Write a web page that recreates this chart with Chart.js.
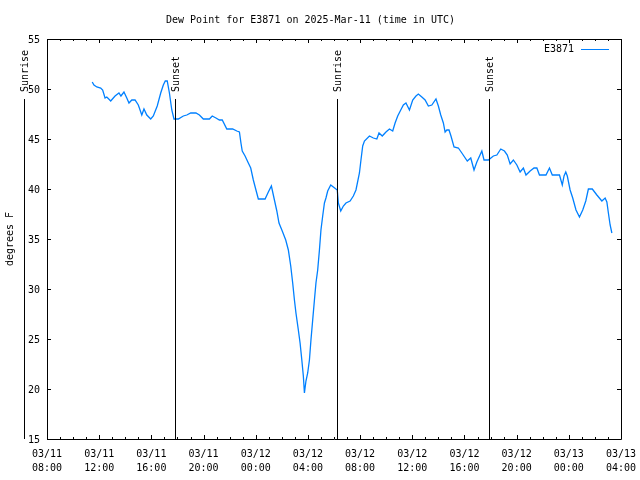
<!DOCTYPE html>
<html>
<head>
<meta charset="utf-8">
<script src="https://cdn.jsdelivr.net/npm/chart.js@4.4.1/dist/chart.umd.min.js"></script>
<style>
  html, body { margin: 0; padding: 0; background: #fff; }
  #wrap { width: 640px; height: 480px; }
</style>
</head>
<body>
<div id="wrap"><canvas id="dewChart"></canvas></div>
<script>
var stationName = 'E3871';
var chartTitle = 'Dew Point for E3871 on 2025-Mar-11 (time in UTC)';

// observation times (UTC, "MM/DD HH:MM") and dew point in F
var times = [
  '03/11 11:28','03/11 11:36','03/11 11:49','03/11 12:07','03/11 12:16','03/11 12:27','03/11 12:35','03/11 12:53',
  '03/11 13:13','03/11 13:31','03/11 13:40','03/11 13:54','03/11 14:07','03/11 14:17','03/11 14:30','03/11 14:45',
  '03/11 15:00','03/11 15:16','03/11 15:26','03/11 15:39','03/11 15:57','03/11 16:09','03/11 16:27','03/11 16:43',
  '03/11 16:55','03/11 17:04','03/11 17:13','03/11 17:23','03/11 17:34','03/11 17:44','03/11 18:04','03/11 18:27',
  '03/11 18:43','03/11 19:01','03/11 19:25','03/11 19:41','03/11 19:59','03/11 20:27','03/11 20:40','03/11 20:57',
  '03/11 21:13','03/11 21:26','03/11 21:47','03/11 22:14','03/11 22:33','03/11 22:45','03/11 22:52','03/11 22:58',
  '03/11 23:11','03/11 23:26','03/11 23:37','03/11 23:49','03/12 00:01','03/12 00:12','03/12 00:43','03/12 00:58',
  '03/12 01:12','03/12 01:26','03/12 01:37','03/12 01:47','03/12 02:02','03/12 02:18','03/12 02:30','03/12 02:41',
  '03/12 02:50','03/12 02:58','03/12 03:05','03/12 03:16','03/12 03:24','03/12 03:32','03/12 03:39','03/12 03:44',
  '03/12 03:51','03/12 03:59','03/12 04:07','03/12 04:14','03/12 04:22','03/12 04:30','03/12 04:37','03/12 04:45',
  '03/12 04:53','03/12 05:00','03/12 05:08','03/12 05:16','03/12 05:23','03/12 05:31','03/12 05:45','03/12 05:57',
  '03/12 06:15','03/12 06:20','03/12 06:31','03/12 06:43','03/12 06:55','03/12 07:14','03/12 07:29','03/12 07:41',
  '03/12 07:57','03/12 08:04','03/12 08:12','03/12 08:20','03/12 08:43','03/12 09:01','03/12 09:17','03/12 09:27',
  '03/12 09:42','03/12 09:59','03/12 10:15','03/12 10:30','03/12 10:41','03/12 10:53','03/12 11:07','03/12 11:19',
  '03/12 11:31','03/12 11:47','03/12 12:02','03/12 12:17','03/12 12:28','03/12 12:44','03/12 12:59','03/12 13:14',
  '03/12 13:30','03/12 13:49','03/12 14:00','03/12 14:11','03/12 14:23','03/12 14:31','03/12 14:39','03/12 14:49',
  '03/12 14:58','03/12 15:12','03/12 15:32','03/12 15:48','03/12 16:13','03/12 16:29','03/12 16:44','03/12 16:57',
  '03/12 17:20','03/12 17:30','03/12 17:50','03/12 18:13','03/12 18:29','03/12 18:47','03/12 19:04','03/12 19:17',
  '03/12 19:30','03/12 19:45','03/12 20:01','03/12 20:16','03/12 20:31','03/12 20:43','03/12 21:02','03/12 21:20',
  '03/12 21:33','03/12 21:45','03/12 22:15','03/12 22:31','03/12 22:44','03/12 23:17','03/12 23:30','03/12 23:38',
  '03/12 23:46','03/12 23:53','03/13 00:06','03/13 00:18','03/13 00:33','03/13 00:49','03/13 01:04','03/13 01:18',
  '03/13 01:30','03/13 01:48','03/13 02:09','03/13 02:32','03/13 02:47','03/13 02:55','03/13 03:02','03/13 03:10',
  '03/13 03:18'
];
var dewPoint = [
  50.7, 50.4, 50.2, 50.1, 49.9, 49.1, 49.2, 48.8,
  49.3, 49.6, 49.3, 49.7, 49.1, 48.6, 48.9, 48.9,
  48.4, 47.4, 48.0, 47.4, 47.0, 47.3, 48.3, 49.6,
  50.4, 50.8, 50.8, 49.6, 47.9, 47.0, 47.0, 47.3,
  47.4, 47.6, 47.6, 47.4, 47.0, 47.0, 47.3, 47.1,
  46.9, 46.9, 46.0, 46.0, 45.8, 45.7, 44.6, 43.8,
  43.3, 42.6, 42.1, 40.9, 39.9, 39.0, 39.0, 39.7,
  40.3, 38.9, 37.8, 36.6, 35.8, 34.9, 33.9, 32.3,
  30.6, 28.9, 27.6, 25.9, 24.6, 22.9, 21.3, 19.6,
  20.8, 21.6, 22.9, 24.9, 26.9, 28.9, 30.6, 31.9,
  33.9, 35.9, 37.3, 38.6, 39.1, 39.8, 40.4, 40.2,
  39.9, 38.6, 37.8, 38.3, 38.6, 38.8, 39.3, 39.9,
  41.6, 42.9, 44.3, 44.8, 45.3, 45.1, 45.0, 45.6,
  45.3, 45.7, 46.0, 45.8, 46.6, 47.3, 47.9, 48.4,
  48.6, 47.9, 48.9, 49.3, 49.5, 49.2, 48.9, 48.3,
  48.4, 49.0, 48.3, 47.4, 46.6, 45.7, 45.9, 45.9,
  45.3, 44.2, 44.1, 43.6, 42.8, 43.1, 41.9, 42.7,
  43.8, 42.9, 42.9, 43.3, 43.4, 44.0, 43.8, 43.4,
  42.5, 42.9, 42.4, 41.7, 42.1, 41.4, 41.8, 42.1,
  42.1, 41.4, 41.4, 42.1, 41.4, 41.4, 40.4, 41.3,
  41.7, 41.3, 39.9, 39.1, 37.9, 37.2, 37.9, 38.8,
  40.0, 40.0, 39.4, 38.8, 39.1, 38.7, 37.6, 36.4,
  35.6
];

var xTickDates = ['03/11','03/11','03/11','03/11','03/12','03/12','03/12','03/12','03/12','03/12','03/13','03/13'];
var xTickTimes = ['08:00','12:00','16:00','20:00','00:00','04:00','08:00','12:00','16:00','20:00','00:00','04:00'];

var eventTimes = ['03/11 06:14','03/11 17:50','03/12 06:16','03/12 17:53'];
var eventLabels = ['Sunrise','Sunset','Sunrise','Sunset'];

var lineColor = '#0080ff';
var fontFamily = '"DejaVu Sans Mono", "Liberation Mono", monospace';

// "MM/DD HH:MM" -> hours since 03/11 00:00
function toHours(s) {
    var day = parseInt(s.substring(3, 5), 10) - 11;
    return day * 24 + parseInt(s.substring(6, 8), 10) + parseInt(s.substring(9, 11), 10) / 60;
}

var points = [];
for (var i = 0; i < times.length; i++) {
    points.push({ x: toHours(times[i]), y: dewPoint[i] });
}

// border, inward ticks, sunrise/sunset markers and the key, drawn like gnuplot does
const gnuplotFrame = {
    id: 'gnuplotFrame',
    afterDraw: function(chart) {
        const ctx = chart.ctx;
        const a = chart.chartArea;
        const xs = chart.scales.x;
        const ys = chart.scales.y;
        ctx.save();
        ctx.strokeStyle = '#000';
        ctx.lineWidth = 1;

        ctx.beginPath();
        ctx.rect(Math.round(a.left) + 0.5, Math.round(a.top) + 0.5,
                 Math.round(a.right) - Math.round(a.left), Math.round(a.bottom) - Math.round(a.top));
        ctx.stroke();

        ctx.beginPath();
        for (let h = xs.min; h <= xs.max; h++) {
            const px = Math.round(xs.getPixelForValue(h)) + 0.5;
            const len = (h % 4 === 0) ? 4 : 2;
            ctx.moveTo(px, a.bottom); ctx.lineTo(px, a.bottom - len);
            ctx.moveTo(px, a.top); ctx.lineTo(px, a.top + len);
        }
        for (let v = ys.min; v <= ys.max; v += 5) {
            const py = Math.round(ys.getPixelForValue(v)) + 0.5;
            ctx.moveTo(a.left, py); ctx.lineTo(a.left + 4, py);
            ctx.moveTo(a.right, py); ctx.lineTo(a.right - 4, py);
        }
        ctx.stroke();

        ctx.font = '10px ' + fontFamily;
        ctx.fillStyle = '#000';
        for (let i = 0; i < eventTimes.length; i++) {
            const px = Math.round(xs.getPixelForValue(toHours(eventTimes[i]))) + 0.5;
            ctx.beginPath();
            ctx.moveTo(px, ys.getPixelForValue(49));
            ctx.lineTo(px, ys.getPixelForValue(15));
            ctx.stroke();
            ctx.save();
            ctx.translate(px + 0.5, ys.getPixelForValue(49.7));
            ctx.rotate(-Math.PI / 2);
            ctx.textAlign = 'left';
            ctx.textBaseline = 'middle';
            ctx.fillText(eventLabels[i], 0, 0);
            ctx.restore();
        }

        // key
        ctx.textAlign = 'right';
        ctx.textBaseline = 'middle';
        ctx.fillText(stationName, a.right - 47, a.top + 10);
        ctx.strokeStyle = lineColor;
        ctx.beginPath();
        ctx.moveTo(a.right - 40, a.top + 10.5);
        ctx.lineTo(a.right - 12, a.top + 10.5);
        ctx.stroke();
        ctx.restore();
    }
};

const ctxDew = document.getElementById('dewChart');
const dewChart = new Chart(ctxDew, {
    type: 'line',
    data: {
        datasets: [{
            label: stationName,
            data: points,
            borderColor: lineColor,
            borderWidth: 1.3,
            pointRadius: 0,
            tension: 0,
            fill: false
        }]
    },
    options: {
        responsive: true,
        maintainAspectRatio: false,
        animation: false,
        layout: { padding: { left: 0, right: 19, top: 0, bottom: 0 } },
        plugins: {
            legend: { display: false },
            tooltip: { enabled: false },
            title: {
                display: true,
                text: chartTitle,
                color: '#000',
                font: { family: fontFamily, size: 10, weight: 'normal', lineHeight: 1.2 },
                padding: { top: 14, bottom: 13 }
            }
        },
        scales: {
            x: {
                type: 'linear',
                min: 8,
                max: 52,
                afterFit: function(s) { s.height = 41; s.paddingLeft = 0; s.paddingRight = 0; },
                grid: { display: false, drawTicks: false },
                border: { display: false },
                ticks: {
                    stepSize: 4,
                    autoSkip: false,
                    maxRotation: 0,
                    padding: 8,
                    color: '#000',
                    font: { family: fontFamily, size: 10, lineHeight: 1.4 },
                    callback: function(value, index) {
                        return [xTickDates[index], xTickTimes[index]];
                    }
                }
            },
            y: {
                min: 15,
                max: 55,
                afterFit: function(s) { s.width = 47; s.paddingTop = 0; s.paddingBottom = 0; },
                grid: { display: false, drawTicks: false },
                border: { display: false },
                title: {
                    display: true,
                    text: 'degrees F',
                    color: '#000',
                    font: { family: fontFamily, size: 10 },
                    padding: { top: 4, bottom: 0 }
                },
                ticks: {
                    stepSize: 5,
                    padding: 7,
                    labelOffset: 1,
                    color: '#000',
                    font: { family: fontFamily, size: 10 }
                }
            }
        }
    },
    plugins: [gnuplotFrame]
});
</script>
</body>
</html>
